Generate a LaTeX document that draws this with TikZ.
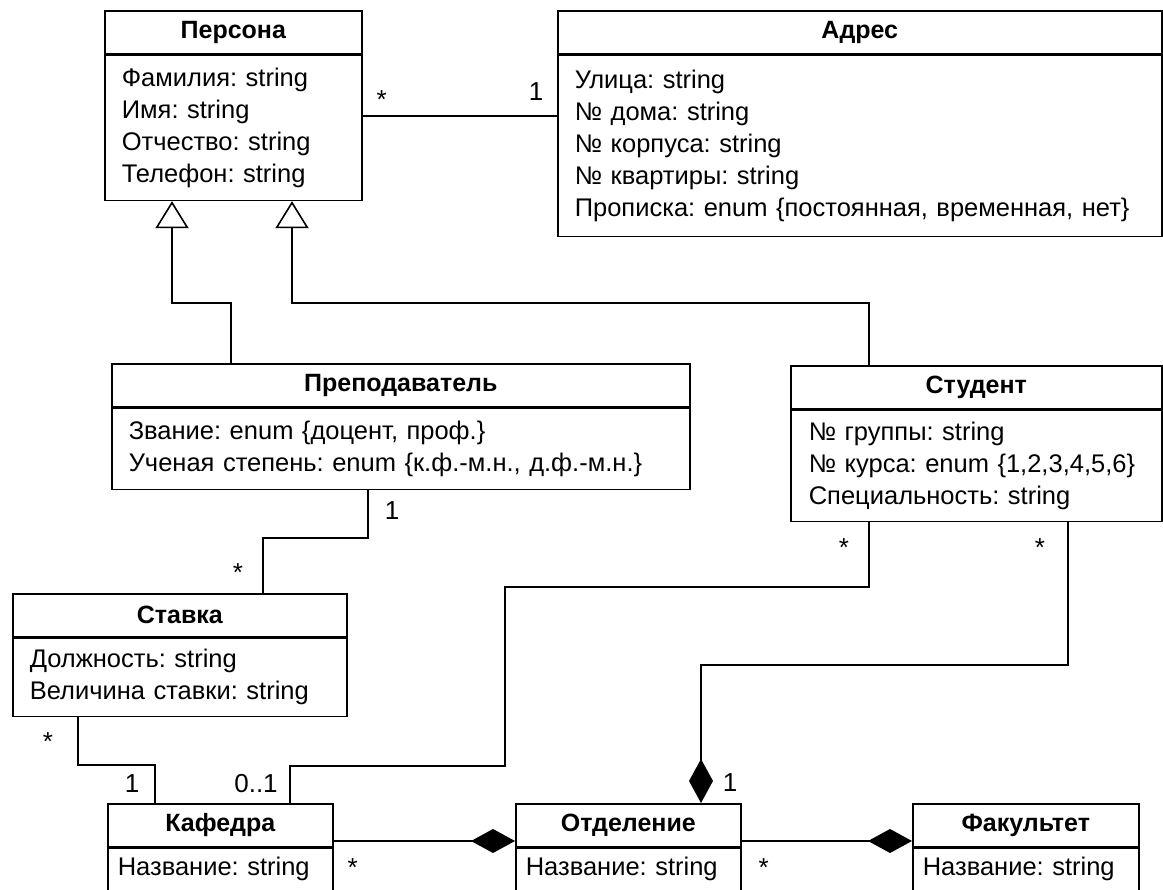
\documentclass[tikz,border=0pt]{standalone}
\usepackage{fontspec}
\setmainfont{Liberation Sans}
\usepackage{tikz}
\usetikzlibrary{arrows.meta,positioning}
\frenchspacing
\tikzset{
    %Define standard arrow tip
    >=Stealth,
    %Define style for class name boxes
    classhead/.style={
           rectangle,
           draw=black, line width=1.6pt,
           anchor=north west,
           inner sep=0pt,
           minimum height=43pt,
           font=\fontsize{25}{32}\selectfont\bfseries,
           text centered},
    %Define style for attribute boxes
    classbody/.style={
           rectangle,
           draw=black, line width=1.6pt,
           inner xsep=17pt,
           inner ysep=0pt,
           font=\fontsize{25.5}{32}\selectfont,
           align=left},
    % Define line styles
    assoc/.style={-, line width=1.6pt},
    gen/.style={{Triangle[open,length=27pt,width=33pt]}-, line width=1.6pt},
    comp/.style={-{Diamond[length=44pt,width=24pt]}, line width=1.6pt},
    mult/.style={
           inner sep=0pt,
           font=\fontsize{26}{32}\selectfont}
}

\begin{document}
\begin{tikzpicture}[x=1pt,y=-1pt]
\useasboundingbox (0,0) rectangle (1163,890);
% classes
\node[classhead, minimum width=257pt](persona) at (104,10){Персона};
\node[classbody, text width=223pt, minimum height=145pt, below=0pt of persona](persona-attr)
  {Фамилия: string\\Имя: string\\Отчество: string\\Телефон: string};
\node[classhead, minimum width=604pt](adres) at (557,10){Адрес};
\node[classbody, text width=570pt, minimum height=181pt, below=0pt of adres](adres-attr)
  {Улица: string\\№ дома: string\\№ корпуса: string\\№ квартиры: string\\Прописка: enum \{постоянная, временная, нет\}};
\node[classhead, minimum width=578pt](prep) at (111,363){Преподаватель};
\node[classbody, text width=548pt, inner xsep=15pt, minimum height=81pt, below=0pt of prep](prep-attr)
  {\hspace*{2pt}Звание: enum \{доцент, проф.\}\\\hspace*{2pt}Ученая степень: enum \{к.ф.-м.н., д.ф.-м.н.\}};
\node[classhead, minimum width=371pt](student) at (790,365){Студент};
\node[classbody, text width=339pt, inner xsep=16pt, minimum height=111pt, below=0pt of student](student-attr)
  {\hspace*{2pt}№ группы: string\\\hspace*{2pt}№ курса: enum \{1,2,3,4,5,6\}\\\hspace*{2pt}Специальность: string};
\node[classhead, minimum width=334pt](stavka) at (12,593){Ставка};
\node[classbody, text width=300pt, minimum height=78pt, below=0pt of stavka](stavka-attr)
  {Должность: string\\Величина ставки: string};
\node[classhead, minimum width=225pt](kafedra) at (107,803){Кафедра};
\node[classbody, text width=205pt, inner xsep=10pt, text depth=14pt, minimum height=50pt, below=0pt of kafedra](kafedra-attr)
  {Название: string};
\node[classhead, minimum width=225pt](otdel) at (515,803){Отделение};
\node[classbody, text width=205pt, inner xsep=10pt, text depth=14pt, minimum height=50pt, below=0pt of otdel](otdel-attr)
  {Название: string};
\node[classhead, minimum width=226pt](fakultet) at (912,803){Факультет};
\node[classbody, text width=206pt, inner xsep=10pt, text depth=14pt, minimum height=50pt, below=0pt of fakultet](fakultet-attr)
  {Название: string};

\coordinate (assocrow) at (0,116);
\coordinate (botrow) at (0,841);

% associations
\draw[assoc] (persona-attr.east |- assocrow)
  -- node[mult, pos=0, xshift=19pt, yshift=16pt]{*}
     node[mult, pos=1, xshift=-21pt, yshift=24pt]{1}
  (adres-attr.west |- assocrow);
\draw[assoc] ([xshift=257pt]prep-attr.south west)
  -- node[mult, pos=0, xshift=24pt, yshift=-20pt]{1} ++(0,48)
  -| ([xshift=251pt]stavka.north west) node[mult, xshift=-25pt, yshift=20pt]{*};
\draw[assoc] ([xshift=66pt]stavka-attr.south west)
  -- node[mult, pos=0, xshift=-30pt, yshift=-24pt]{*} ++(0,48)
  -| ([xshift=48pt]kafedra.north west) node[mult, xshift=-23pt, yshift=19pt]{1};
\draw[assoc] ([xshift=79pt]student-attr.south west)
  -- node[mult, pos=0, xshift=-25pt, yshift=-25pt]{*} ++(0,65)
  -| ++(-364,179)
  -| ([xshift=183pt]kafedra.north west) node[mult, xshift=-34pt, yshift=19pt]{0..1};

% generalisations
\draw[gen] ([xshift=68pt]persona-attr.south west) -- ++(0,102) -| ([xshift=120pt]prep.north west);
\draw[gen] ([xshift=188pt]persona-attr.south west) -- ++(0,102) -| ([xshift=79pt]student.north west);

% compositions
\draw[comp] ([xshift=278pt]student-attr.south west)
  -- node[mult, pos=0, xshift=-28pt, yshift=-25pt]{*} ++(0,143)
  -| ([xshift=186pt]otdel.north west) node[mult, xshift=29pt, yshift=20pt]{1};
\draw[comp] (kafedra.east |- botrow)
  -- node[mult, pos=0, xshift=19pt, yshift=-27pt]{*} (otdel.west |- botrow);
\draw[comp] (otdel.east |- botrow)
  -- node[mult, pos=0, xshift=22pt, yshift=-27pt]{*} (fakultet.west |- botrow);
\end{tikzpicture}
\end{document}
